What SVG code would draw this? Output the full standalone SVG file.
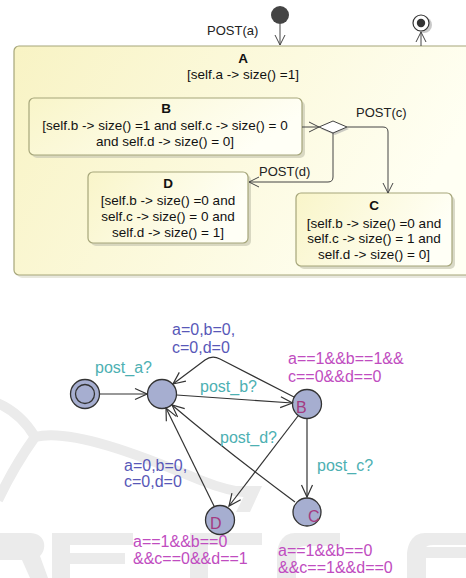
<svg xmlns="http://www.w3.org/2000/svg" width="466" height="578" viewBox="0 0 466 578">
<defs>
<linearGradient id="gA" x1="0" y1="0" x2="1" y2="0.3">
<stop offset="0" stop-color="#f8f3c4"/>
<stop offset="1" stop-color="#fffff3"/>
</linearGradient>
<linearGradient id="gS" x1="0" y1="0" x2="1" y2="0.3">
<stop offset="0" stop-color="#f9f5c9"/>
<stop offset="1" stop-color="#fffff6"/>
</linearGradient>
<marker id="open" viewBox="0 0 12 12" refX="11" refY="6" markerWidth="12" markerHeight="12" markerUnits="userSpaceOnUse" orient="auto">
<path d="M1,1 L11,6 L1,11" fill="none" stroke="#444" stroke-width="1"/>
</marker>
<marker id="up" viewBox="0 0 14 14" refX="13" refY="7" markerWidth="14" markerHeight="14" markerUnits="userSpaceOnUse" orient="auto">
<path d="M1,1.5 L13,7 L1,12.5" fill="none" stroke="#333" stroke-width="1.2"/>
</marker>
<style>
.uml{font-family:"Liberation Sans",Arial,sans-serif;font-size:13.5px;fill:#111;text-anchor:middle}
.ttl{font-weight:bold}
.lbl{font-family:"Liberation Sans",Arial,sans-serif;font-size:13px;fill:#222}
.st{fill:url(#gS);stroke:#a6a67a;stroke-width:1.2}
.sh{fill:#c9c9b4;opacity:0.7}
.ln{fill:none;stroke:#444;stroke-width:1}
.ua{font-family:"Liberation Sans",Arial,sans-serif;font-size:16px}
.sync{fill:#4db0b2}
.asg{fill:#5858b8}
.inv{fill:#c04cc0}
.nd{fill:#a6aed0;stroke:#333;stroke-width:1.3}
.nn{fill:#a33a80;font-family:"Liberation Sans",Arial,sans-serif;font-size:16px}
.ed{fill:none;stroke:#333;stroke-width:1.2}
.wm{fill:#ebebeb}
.wms{fill:none;stroke:#ebebeb;stroke-width:10}
</style>
</defs>
<rect width="466" height="578" fill="#fff"/>

<!-- faint watermark -->
<g id="watermark">
<path class="wms" d="M-5,402 C15,410 28,425 35,437 C70,428 140,455 200,480 C220,488 235,492 250,493"/>
<path class="wms" d="M35,437 C22,455 10,475 -2,500"/>
<path class="wm" d="M232,486 L262,486 L250,512 L236,512 L244,496 L232,496 Z"/>
<path class="wm" d="M0,533 L30,533 C45,533 48,548 40,556 L48,578 L30,578 L22,560 L0,560 Z"/>
<path class="wm" d="M52,533 L133,533 L133,545 L70,545 L70,553 L125,553 L125,564 L70,564 L70,578 L52,578 Z"/>
<path class="wm" d="M190,533 L262,533 L262,545 L208,545 L208,578 L190,578 Z"/>
<path class="wm" d="M340,533 L295,533 C282,533 277,545 277,556 L277,578 L296,578 L296,556 C296,548 300,546 306,546 L340,546 Z"/>
<path class="wm" d="M466,533 L425,533 C412,533 407,545 407,556 L407,578 L426,578 L426,558 L466,558 L466,547 L426,547 C428,545 432,545 436,545 L466,545 Z"/>
</g>

<!-- UML state machine -->
<g id="A">
<rect x="17" y="49" width="460" height="229" rx="5" fill="#d8d8c8" opacity="0.6"/>
<rect x="14" y="46" width="460" height="229" rx="5" fill="url(#gA)" stroke="#a6a67a" stroke-width="1.2"/>
<text class="uml ttl" x="243" y="63">A</text>
<text class="uml" x="243" y="79">[self.a -&gt; size() =1]</text>
</g>
<g id="initial">
<circle cx="280" cy="15" r="9" fill="#444"/>
</g>
<g id="final">
<circle cx="424" cy="25" r="8" fill="#bbb" opacity="0.8"/>
<circle cx="421" cy="23" r="8" fill="#fff" stroke="#333" stroke-width="1.2"/>
<circle cx="421" cy="23" r="4.2" fill="#333"/>
</g>
<g id="B">
<rect x="32" y="101" width="273" height="57" rx="5" class="sh"/>
<rect x="29" y="98" width="273" height="57" rx="5" class="st"/>
<text class="uml ttl" x="166" y="113">B</text>
<text class="uml" x="165" y="130">[self.b -&gt; size() =1 and self.c -&gt; size() = 0</text>
<text class="uml" x="165" y="146">and self.d -&gt; size() = 0]</text>
</g>
<g id="choice">
<path d="M321,129 L335,123 L349,129 L335,135 Z" fill="#aaa" opacity="0.6"/>
<path d="M319,127 L333,121 L347,127 L333,133 Z" fill="#fff" stroke="#444" stroke-width="1"/>
</g>
<g id="D">
<rect x="91" y="175" width="160" height="71" rx="5" class="sh"/>
<rect x="88" y="172" width="160" height="71" rx="5" class="st"/>
<text class="uml ttl" x="168" y="188">D</text>
<text class="uml" x="168" y="205">[self.b -&gt; size() =0 and</text>
<text class="uml" x="168" y="221">self.c -&gt; size() = 0  and</text>
<text class="uml" x="168" y="237">self.d -&gt; size() = 1]</text>
</g>
<g id="C">
<rect x="299" y="196" width="156" height="73" rx="5" class="sh"/>
<rect x="296" y="193" width="156" height="73" rx="5" class="st"/>
<text class="uml ttl" x="374" y="210">C</text>
<text class="uml" x="374" y="228">[self.b -&gt; size() =0 and</text>
<text class="uml" x="374" y="243">self.c -&gt; size() = 1 and</text>
<text class="uml" x="374" y="259">self.d -&gt; size() = 0]</text>
</g>
<g id="uml-connectors">
<path class="ln" d="M280,24 L280,45" marker-end="url(#open)"/>
<path class="ln" d="M421,46 L421,32" marker-end="url(#open)"/>
<path class="ln" d="M302,127 L319,127" marker-end="url(#open)"/>
<path class="ln" d="M347,127 L383,127 Q388,127 388,132 L388,193" marker-end="url(#open)"/>
<path class="ln" d="M333,133 L333,177 Q333,182 328,182 L249,182" marker-end="url(#open)"/>
<text class="lbl" x="207" y="35">POST(a)</text>
<text class="lbl" x="356" y="117">POST(c)</text>
<text class="lbl" x="259" y="176">POST(d)</text>
</g>

<!-- UPPAAL automaton -->
<g id="n-init">
<circle class="nd" cx="85" cy="394" r="14.5"/>
<circle cx="85" cy="394" r="9.5" fill="none" stroke="#333" stroke-width="1.3"/>
</g>
<g id="n-idle">
<circle class="nd" cx="162" cy="394" r="14.5"/>
</g>
<g id="n-B">
<circle class="nd" cx="307" cy="404" r="14.5"/>
<text class="nn" x="296" y="413">B</text>
</g>
<g id="n-C">
<circle class="nd" cx="307" cy="512" r="14"/>
<text class="nn" x="308" y="522">C</text>
</g>
<g id="n-D">
<circle class="nd" cx="220" cy="520" r="14.5"/>
<text class="nn" x="210" y="529">D</text>
</g>
<g id="uppaal-connectors">
<path class="ed" d="M100,394 L147,394" marker-end="url(#up)"/>
<path class="ed" d="M176.5,395 L292.5,403" marker-end="url(#up)"/>
<path class="ed" d="M294,397 L220,359 Q212,355 205,360 L173,384" marker-end="url(#up)"/>
<path class="ed" d="M307,419 L307,497" marker-end="url(#up)"/>
<path class="ed" d="M298,416 L229,506" marker-end="url(#up)"/>
<path class="ed" d="M295,502 Q225,450 172,405" marker-end="url(#up)"/>
<path class="ed" d="M214,506 L166,408" marker-end="url(#up)"/>
<text class="ua sync" x="95" y="373">post_a?</text>
<text class="ua sync" x="200" y="392">post_b?</text>
<text class="ua sync" x="220" y="443">post_d?</text>
<text class="ua sync" x="317" y="471">post_c?</text>
<text class="ua asg" x="172" y="335">a=0,b=0,</text>
<text class="ua asg" x="172" y="353">c=0,d=0</text>
<text class="ua asg" x="124" y="471">a=0,b=0,</text>
<text class="ua asg" x="124" y="487">c=0,d=0</text>
<text class="ua inv" x="288" y="364">a==1&amp;&amp;b==1&amp;&amp;</text>
<text class="ua inv" x="288" y="382">c==0&amp;&amp;d==0</text>
<text class="ua inv" x="133" y="547">a==1&amp;&amp;b==0</text>
<text class="ua inv" x="133" y="564">&amp;&amp;c==0&amp;&amp;d==1</text>
<text class="ua inv" x="278" y="556">a==1&amp;&amp;b==0</text>
<text class="ua inv" x="278" y="573">&amp;&amp;c==1&amp;&amp;d==0</text>
</g>
</svg>
